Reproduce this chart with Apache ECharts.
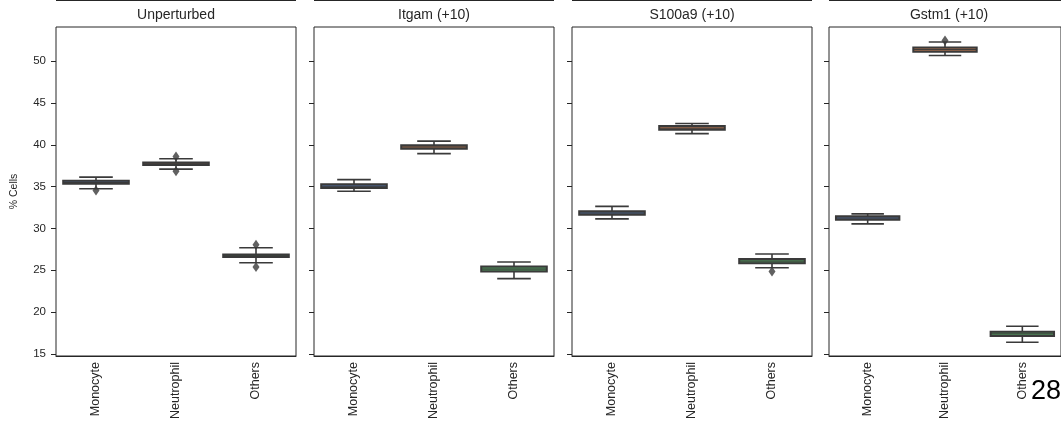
<!DOCTYPE html>
<html>
<head>
<meta charset="utf-8">
<script src="https://cdn.jsdelivr.net/npm/echarts@6/dist/echarts.min.js"></script>
<style>
  html, body { margin: 0; padding: 0; background: #fff; }
  #chart { width: 1061px; height: 432px; }
</style>
</head>
<body>
<div id="chart"></div>
<script>
const categories = ['Monocyte', 'Neutrophil', 'Others']
const panelTitles = ['Unperturbed', 'Itgam (+10)', 'S100a9 (+10)', 'Gstm1 (+10)']
const yTicks = [15, 20, 25, 30, 35, 40, 45, 50]

// [min, q1, median, q3, max] per category
const unperturbedStats = [
  [34.75, 35.35, 35.5, 35.7, 36.15],
  [37.1, 37.6, 37.75, 37.9, 38.35],
  [25.9, 26.6, 26.75, 26.9, 27.7]
]
const itgamStats = [
  [34.45, 34.85, 35.05, 35.3, 35.85],
  [38.95, 39.55, 39.75, 39.95, 40.45],
  [24.0, 24.85, 25.15, 25.45, 26.0]
]
const s100a9Stats = [
  [31.15, 31.65, 31.85, 32.05, 32.65],
  [41.35, 41.8, 42.0, 42.25, 42.55],
  [25.3, 25.85, 26.1, 26.35, 26.95]
]
const gstm1Stats = [
  [30.55, 31.05, 31.25, 31.45, 31.75],
  [50.7, 51.15, 51.4, 51.65, 52.3],
  [16.4, 17.15, 17.4, 17.65, 18.3]
]
// [category index, value]
const unperturbedOutliers = [[0, 34.55], [1, 38.6], [1, 36.85], [2, 28.05], [2, 25.4]]
const itgamOutliers = []
const s100a9Outliers = [[2, 24.85]]
const gstm1Outliers = [[1, 52.5]]

const allStats = [unperturbedStats, itgamStats, s100a9Stats, gstm1Stats]
const allOutliers = [unperturbedOutliers, itgamOutliers, s100a9Outliers, gstm1Outliers]

const FILLS = ['#4f6a94', '#a8704f', '#4f8f5a']
const EDGE = '#3a3a3a'
const FONT = '"Liberation Sans", Arial, sans-serif'
const PANEL_LEFT = [56, 314, 572, 829]
const PANEL_W = 240

function renderBox(params, api) {
  const i = api.value(0)
  const bw = api.size([1, 0])[0]
  const half = bw * 0.41, capHalf = bw * 0.21
  const cx = api.coord([i, 0])[0]
  const y = k => api.coord([i, api.value(k)])[1]
  const yMin = y(1), yQ1 = y(2), yMed = y(3), yQ3 = y(4), yMax = y(5)
  const line = (x1, y1, x2, y2, w) => ({
    type: 'line', shape: { x1, y1, x2, y2 },
    style: { stroke: EDGE, lineWidth: w || 1.6 }
  })
  return {
    type: 'group',
    children: [
      line(cx, yQ3, cx, yMax),
      line(cx, yQ1, cx, yMin),
      line(cx - capHalf, yMax, cx + capHalf, yMax),
      line(cx - capHalf, yMin, cx + capHalf, yMin),
      {
        type: 'rect',
        shape: { x: cx - half, y: yQ3, width: half * 2, height: Math.max(yQ1 - yQ3, 1) },
        style: { fill: FILLS[i], stroke: EDGE, lineWidth: 2 }
      },
      line(cx - half, yMed, cx + half, yMed, 1)
    ]
  }
}

const grid = [], xAxis = [], yAxis = [], series = [], graphic = []
PANEL_LEFT.forEach((left, g) => {
  grid.push({
    left, top: 27, width: PANEL_W, height: 329,
    show: true, borderColor: '#262626', borderWidth: 1, backgroundColor: '#fff'
  })
  xAxis.push({
    type: 'category', gridIndex: g, data: categories,
    axisLine: { show: true, lineStyle: { color: '#262626' } },
    axisTick: { alignWithLabel: true, length: 5, lineStyle: { color: '#262626' } },
    axisLabel: { rotate: 90, fontSize: 12.5, color: '#262626', fontFamily: FONT, margin: 6 }
  })
  yAxis.push({
    type: 'value', gridIndex: g, min: 14.75, max: 54.1,
    splitLine: { show: false },
    axisLine: { show: false },
    axisTick: { show: true, length: 5, customValues: yTicks, lineStyle: { color: '#262626' } },
    axisLabel: {
      show: g === 0, customValues: yTicks, fontSize: 11.5, color: '#262626',
      fontFamily: FONT, margin: 10
    },
    name: g === 0 ? '% Cells' : '',
    nameLocation: 'middle', nameGap: 36, nameRotate: 90,
    nameTextStyle: { fontSize: 10.5, color: '#262626', fontFamily: FONT }
  })
  series.push({
    type: 'custom', xAxisIndex: g, yAxisIndex: g,
    renderItem: renderBox,
    encode: { x: 0, y: [1, 2, 3, 4, 5] },
    data: allStats[g].map((s, i) => [i].concat(s))
  })
  series.push({
    type: 'scatter', xAxisIndex: g, yAxisIndex: g,
    symbol: 'diamond', symbolSize: [7, 10],
    itemStyle: { color: EDGE },
    z: 3,
    data: allOutliers[g]
  })
  graphic.push({
    type: 'text', x: left + PANEL_W / 2, y: 15,
    style: {
      text: panelTitles[g], textAlign: 'center', textVerticalAlign: 'middle',
      font: '14px ' + FONT, fill: '#262626'
    }
  })
  graphic.push({
    type: 'line', shape: { x1: left, y1: 0.5, x2: left + PANEL_W, y2: 0.5 },
    style: { stroke: '#262626', lineWidth: 1 }
  })
})
graphic.push({
  type: 'text', x: 1031, y: 392,
  style: { text: '28', textVerticalAlign: 'middle', font: '27px ' + FONT, fill: '#000' }
})

const chart = echarts.init(document.getElementById('chart'))
chart.setOption({
  animation: false,
  grid, xAxis, yAxis, series, graphic
})
</script>
</body>
</html>
